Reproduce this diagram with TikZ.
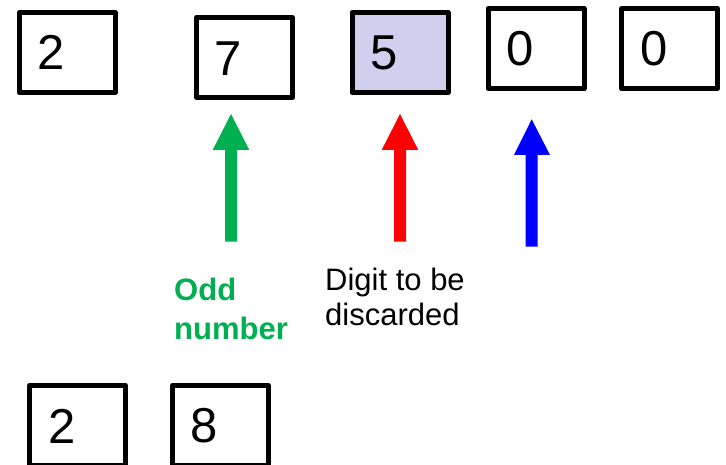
\documentclass[tikz,border=0pt]{standalone}
\usepackage{fontspec}
\setmainfont{Liberation Sans}
\definecolor{oddgreen}{HTML}{00B050}
\definecolor{dropfill}{HTML}{D0D0EE}
\begin{document}
\begin{tikzpicture}[x=1pt,y=-1pt,
  digitbox/.style={draw=black,line width=5pt,line join=round,minimum width=96pt,minimum height=80pt,inner sep=0pt},
  digit/.style={inner sep=0pt,font=\fontsize{49}{49}\selectfont},
  labeltext/.style={inner sep=0pt,align=left,anchor=base west}]
\useasboundingbox (0,0) rectangle (726,465);
\clip (0,0) rectangle (726,465);

% the number being rounded
\node[digitbox] (b1) at (67.25,52.5) {};
\node[digitbox] (b2) at (244.5,57.5) {};
\node[digitbox,fill=dropfill] (b3) at (400,52.5) {};
\node[digitbox] (b4) at (536,48.5) {};
\node[digitbox] (b5) at (669.5,48.5) {};
\node[digit] (d1) at ([xshift=-16pt]b1.center) {2};
\node[digit] (d2) at ([xshift=-16.5pt,yshift=-1pt]b2.center) {7};
\node[digit] (d3) at ([xshift=-15.5pt]b3.center) {5};
\node[digit] (d4) at ([xshift=-15.5pt]b4.center) {0};
\node[digit] (d5) at ([xshift=-15.5pt]b5.center) {0};

% the rounded result
\node[digitbox] (r1) at (77.5,425.5) {};
\node[digitbox] (r2) at (220.5,425.5) {};
\node[digit] (e1) at (62,426) {2};
\node[digit] (e2) at (204.5,426) {8};

% pointer arrows
\fill[oddgreen] (225,241.7) -- (225,150) -- (212.7,150) -- (231,114) -- (249.3,150) -- (237,150) -- (237,241.7) -- cycle;
\fill[red] (394,241.7) -- (394,150) -- (381.7,150) -- (400,114) -- (418.3,150) -- (406,150) -- (406,241.7) -- cycle;
\fill[blue] (525.7,246.7) -- (525.7,155) -- (514,155) -- (531.7,119.3) -- (550,155) -- (537.7,155) -- (537.7,246.7) -- cycle;

% labels (base anchor sits on the last line)
\node[labeltext,text=oddgreen,font=\bfseries\fontsize{31}{38.3}\selectfont] (odd) at (174,339) {Odd\\number};
\node[labeltext,font=\fontsize{31}{35}\selectfont] (disc) at (325,325) {Digit to be\\discarded};
\end{tikzpicture}
\end{document}
